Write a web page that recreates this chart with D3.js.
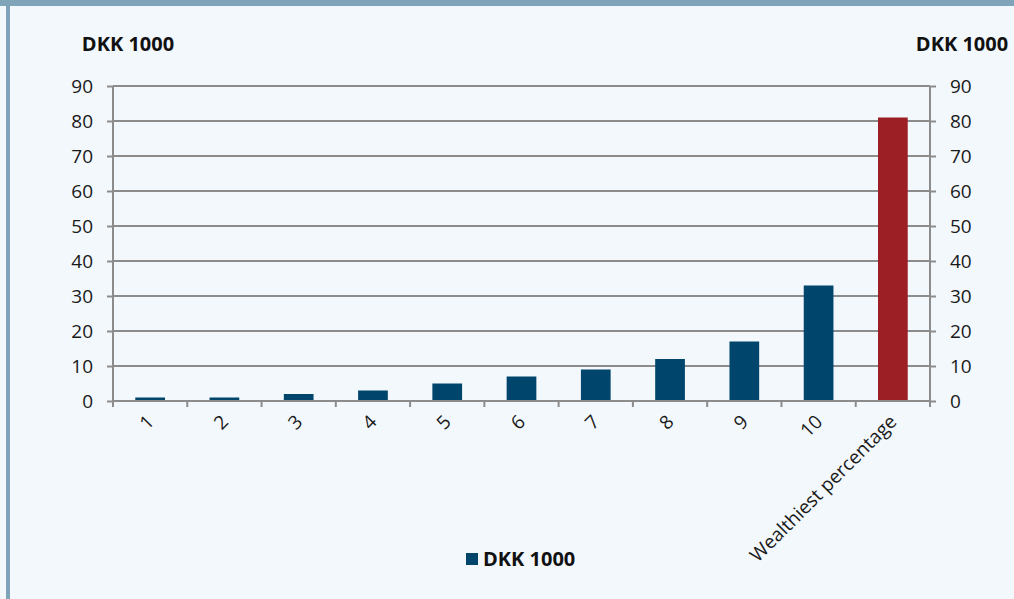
<!DOCTYPE html>
<html>
<head>
<meta charset="utf-8">
<script src="https://cdn.jsdelivr.net/npm/d3@7"></script>
<style>
  html, body { margin: 0; padding: 0; background: #f3f8fc; }
  svg { display: block; font-family: "Open Sans", "Noto Sans", sans-serif; }
</style>
</head>
<body>
<svg id="chart" width="1014" height="599"></svg>
<script>
// Wealth by decile, DKK 1000
const categories = ["1", "2", "3", "4", "5", "6", "7", "8", "9", "10", "Wealthiest percentage"];
const values = [1, 1, 2, 3, 5, 7, 9, 12, 17, 33, 81];
const yTicks = [0, 10, 20, 30, 40, 50, 60, 70, 80, 90];
const unitLabel = "DKK 1000";

const svg = d3.select("#chart");
const W = 1014, H = 599;
const m = { left: 113, right: 930, top: 86, bottom: 401 };
const tickFont = 19, titleFont = 20;

// frame: light panel with a top band and left stripe
svg.append("rect").attr("x", 0).attr("y", 0).attr("width", W).attr("height", H).attr("fill", "#f3f8fc");
svg.append("rect").attr("x", 0).attr("y", 0).attr("width", W).attr("height", 6).attr("fill", "#7fa3b9");
svg.append("rect").attr("x", 6).attr("y", 0).attr("width", 4).attr("height", H).attr("fill", "#7fa3b9");

const x = d3.scaleBand().domain(categories).range([m.left, m.right]).paddingInner(0).paddingOuter(0);
const y = d3.scaleLinear().domain([0, 90]).range([m.bottom, m.top]);

const gridColor = "#8c8c8c";

// horizontal gridlines
svg.append("g").selectAll("line").data(yTicks.filter(d => d > 0)).join("line")
  .attr("x1", m.left).attr("x2", m.right)
  .attr("y1", d => y(d)).attr("y2", d => y(d))
  .attr("stroke", gridColor).attr("stroke-width", 2);

// left and right value axes
const yl = svg.append("g").attr("transform", `translate(${m.left},0)`)
  .call(d3.axisLeft(y).tickValues(yTicks).tickSize(6).tickPadding(14));
const yr = svg.append("g").attr("transform", `translate(${m.right},0)`)
  .call(d3.axisRight(y).tickValues(yTicks).tickSize(6).tickPadding(14));
[yl, yr].forEach(g => {
  g.select(".domain").attr("stroke", gridColor).attr("stroke-width", 2)
    .attr("d", `M0,${m.top}V${m.bottom}`);
  g.selectAll(".tick line").attr("stroke", gridColor).attr("stroke-width", 2);
  g.selectAll(".tick text").attr("font-size", tickFont).attr("fill", "#1a1a1a")
    .attr("font-family", "\"Open Sans\", sans-serif");
});

// bars
svg.append("g").selectAll("rect").data(values).join("rect")
  .attr("x", (d, i) => x(categories[i]) + x.bandwidth() * 0.3)
  .attr("width", x.bandwidth() * 0.4)
  .attr("y", d => y(d))
  .attr("height", d => y(0) - y(d))
  .attr("fill", (d, i) => i === categories.length - 1 ? "#9b1f24" : "#00456b");

// bottom axis with ticks at band boundaries
const xb = svg.append("g").attr("transform", `translate(0,${m.bottom})`);
xb.append("line").attr("x1", m.left).attr("x2", m.right).attr("stroke", gridColor).attr("stroke-width", 2);
const boundaries = categories.map(c => x(c)).concat([m.right]);
xb.selectAll("line.tk").data(boundaries).join("line").attr("class", "tk")
  .attr("x1", d => d).attr("x2", d => d).attr("y1", 0).attr("y2", 6)
  .attr("stroke", gridColor).attr("stroke-width", 2);
xb.selectAll("text").data(categories).join("text")
  .attr("transform", c => `translate(${x(c) + x.bandwidth() / 2 + 5},${22}) rotate(-45)`)
  .attr("text-anchor", "end")
  .attr("font-size", tickFont).attr("fill", "#1a1a1a")
  .text(c => c);

// unit labels above each axis
svg.append("text").attr("x", 128).attr("y", 51).attr("text-anchor", "middle")
  .attr("font-size", titleFont).attr("font-weight", "bold").attr("fill", "#111").text(unitLabel);
svg.append("text").attr("x", 962).attr("y", 51).attr("text-anchor", "middle")
  .attr("font-size", titleFont).attr("font-weight", "bold").attr("fill", "#111").text(unitLabel);

// legend
svg.append("rect").attr("x", 466).attr("y", 553).attr("width", 12).attr("height", 12).attr("fill", "#00456b");
svg.append("text").attr("x", 483).attr("y", 566).attr("font-size", titleFont).attr("font-weight", "bold")
  .attr("fill", "#111").text(unitLabel);
</script>
</body>
</html>
